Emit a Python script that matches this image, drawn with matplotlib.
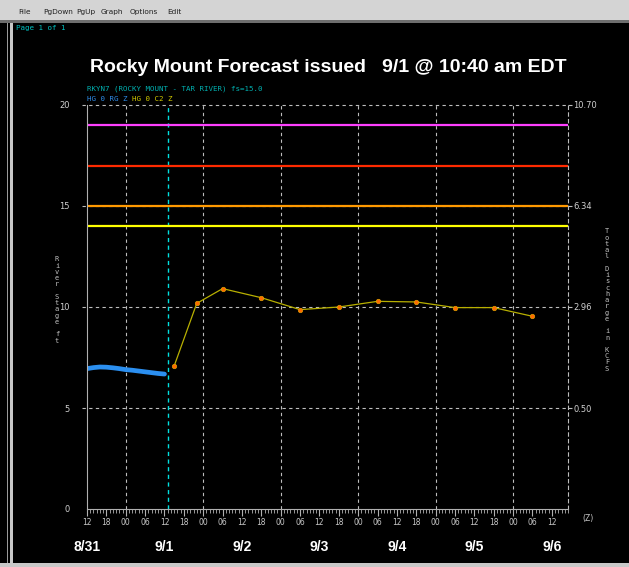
import matplotlib
matplotlib.use("Agg")
import matplotlib.pyplot as plt
from matplotlib.patches import Rectangle
from matplotlib.ticker import FixedLocator, MultipleLocator

# hours relative to 00Z 9/1
obs_hours = [-12, -10, -8, -6, -4, -2, 0, 2, 4, 6, 8, 10, 12]
obs_stage = [6.95, 7.00, 7.03, 7.02, 6.99, 6.95, 6.90, 6.87, 6.83, 6.79, 6.75, 6.71, 6.68]

fcst_hours = [15, 22, 30, 42, 54, 66, 78, 90, 102, 114, 126]
fcst_stage = [7.08, 10.18, 10.91, 10.46, 9.87, 10.0, 10.28, 10.25, 9.97, 9.97, 9.54]

# flood categories (ft)
flood_levels = [19.0, 17.0, 15.0, 14.0]
flood_colors = ['#ff40ff', '#ff2a00', '#ff9900', '#ffff00']

stage_ticks = [0, 5, 10, 15, 20]
flow_ticks = [5, 10, 15, 20]
flow_labels = ['0.50', '2.96', '6.34', '10.70']

days = ['8/31', '9/1', '9/2', '9/3', '9/4', '9/5', '9/6']
day_noon = [-12, 12, 36, 60, 84, 108, 132]
midnights = [0, 24, 48, 72, 96, 120]
issue_hour = 13

W, H = 629, 567
fig = plt.figure(figsize=(W / 100, H / 100), dpi=100, facecolor='black')

def px(x, y):
    return x / W, 1 - y / H

# window chrome
fig.patches.append(Rectangle((0, 1 - 20 / H), 1, 20 / H, transform=fig.transFigure,
                             facecolor='#d4d4d4', edgecolor='none'))
fig.patches.append(Rectangle((0, 1 - 23 / H), 1, 3 / H, transform=fig.transFigure,
                             facecolor='#6e6e6e', edgecolor='none'))
fig.patches.append(Rectangle((7 / W, 0), 1.2 / W, 1 - 23 / H, transform=fig.transFigure,
                             facecolor='#9a9a9a', edgecolor='none'))
fig.patches.append(Rectangle((10 / W, 0), 3 / W, 1 - 23 / H, transform=fig.transFigure,
                             facecolor='#c8c8c8', edgecolor='none'))
fig.patches.append(Rectangle((0, 0), 1, 4 / H, transform=fig.transFigure,
                             facecolor='#c8c8c8', edgecolor='none'))

for lbl, x in [('File', 18), ('PgDown', 43), ('PgUp', 76), ('Graph', 101),
               ('Options', 130), ('Edit', 167)]:
    fig.text(*px(x, 12), lbl, fontsize=5.3, color='#202020', va='center')

mono = 'DejaVu Sans Mono'
fig.text(*px(16, 28), 'Page 1 of 1', family=mono, fontsize=5.4, color='#00c0c0', va='center')
fig.text(*px(87, 89), 'RKYN7 (ROCKY MOUNT - TAR RIVER) fs=15.0', family=mono,
         fontsize=5.4, color='#00b0b0', va='center')
fig.text(*px(87, 99), 'HG 0 RG Z', family=mono, fontsize=5.4, color='#2e8ae6', va='center')
fig.text(*px(132, 99), 'HG 0 C2 Z', family=mono, fontsize=5.4, color='#d0c800', va='center')

fig.text(*px(328, 67), 'Rocky Mount Forecast issued   9/1 @ 10:40 am EDT',
         family='Liberation Sans', fontweight='bold', fontsize=14, color='white',
         ha='center', va='center')

# main plot area
ax = fig.add_axes([87 / W, 1 - 509 / H, (568 - 87) / W, (509 - 105) / H])
ax.set_facecolor('black')
ax.set_xlim(-12, 137)
ax.set_ylim(0, 20)

grid_c = '#bdbdbd'
for lvl in [5, 10, 15, 20]:
    ax.plot([-13.6, 137], [lvl, lvl], color=grid_c, lw=0.8, ls=(0, (3, 3)), clip_on=False)
for m in midnights:
    ax.axvline(m, color=grid_c, lw=0.8, ls=(0, (3, 3)))
ax.axvline(issue_hour, color='#00e0e0', lw=1.0, ls=(0, (3, 2.5)))

for lvl, c in zip(flood_levels, flood_colors):
    ax.axhline(lvl, color=c, lw=1.6)

ax.plot(obs_hours, obs_stage, color='#2b8ff0', lw=3.4, solid_capstyle='round')
ax.plot(fcst_hours, fcst_stage, color='#b8b000', lw=0.9, marker='o', ms=3.2,
        mfc='#ff6a00', mec='#e0a000', mew=0.5)

ax.spines['top'].set_visible(False)
ax.spines['right'].set_color(grid_c)
ax.spines['right'].set_linestyle((0, (3, 3)))
ax.spines['right'].set_linewidth(0.8)
ax.spines['left'].set_color('#b0b0b0')
ax.spines['bottom'].set_color('#b0b0b0')

ax.yaxis.set_major_locator(FixedLocator(stage_ticks))
ax.tick_params(axis='y', left=False, labelsize=6, labelcolor='#d0d0d0', pad=9)

ax.xaxis.set_minor_locator(MultipleLocator(1))
ax.set_xticks(range(-12, 133, 6))
ax.set_xticklabels(['%02d' % (h % 24) for h in range(-12, 133, 6)])
ax.tick_params(axis='x', which='major', length=5, color='#b0b0b0', labelsize=5.5,
               labelcolor='#c8c8c8', pad=1.5)
ax.tick_params(axis='x', which='minor', length=3, color='#b0b0b0')

ax2 = ax.twinx()
ax2.set_ylim(0, 20)
ax2.yaxis.set_major_locator(FixedLocator(flow_ticks))
ax2.set_yticklabels(flow_labels)
ax2.tick_params(axis='y', length=3, color=grid_c, labelsize=6, labelcolor='#d0d0d0', pad=1)
for s in ax2.spines.values():
    s.set_visible(False)

fig.text(*px(588, 519), '(Z)', fontsize=5.5, color='#c8c8c8', va='center', ha='center')

for d, h in zip(days, day_noon):
    ax.text(h, -0.095, d, transform=ax.get_xaxis_transform(), ha='center', va='center',
            family='Liberation Sans', fontweight='bold', fontsize=10, color='white')

fig.text(*px(57, 300), '\n'.join('River Stage ft'), family=mono, fontsize=5,
         color='#c0c0c0', ha='center', va='center', linespacing=1.05)
fig.text(*px(607, 300), '\n'.join('Total Discharge in KCFS'), family=mono, fontsize=5,
         color='#c0c0c0', ha='center', va='center', linespacing=1.05)

fig.savefig('out.png', dpi=100, facecolor='black')
